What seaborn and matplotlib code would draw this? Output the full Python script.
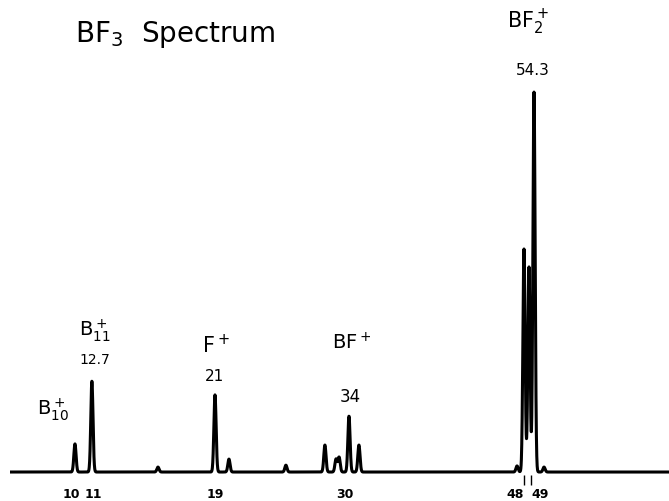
import numpy as np
import pandas as pd
import matplotlib
matplotlib.use("Agg")
import matplotlib.pyplot as plt
import seaborn as sns

# peaks (m/e, height as % of the biggest peak)
peak_mass = [10.18, 10.95, 15.26, 19.0, 20.18, 25.0, 28.3, 29.24, 29.5,
             30.4, 31.4, 47.3, 48.0, 48.71, 49.43, 50.86]
peak_height = [7.4, 23.9, 1.3, 20.3, 3.4, 1.8, 7.1, 3.4, 3.9,
               14.7, 7.1, 1.6, 58.7, 54.0, 100.0, 1.3]

tick_mass = [10, 11, 19, 30, 48, 49]
tick_text = ["10", "11", "19", "30", "48", "49"]

# the chart paper is not linear in m/e: where the ticks sit across the page
tick_pos = np.array([71, 93, 215, 345, 524, 531], dtype=float)
slope_l = (tick_pos[1] - tick_pos[0]) / (tick_mass[1] - tick_mass[0])
slope_r = 7.0


def fwd(m):
    m = np.asarray(m, dtype=float)
    p = np.interp(m, tick_mass, tick_pos)
    p = np.where(m < tick_mass[0], tick_pos[0] + (m - tick_mass[0]) * slope_l, p)
    p = np.where(m > tick_mass[-1], tick_pos[-1] + (m - tick_mass[-1]) * slope_r, p)
    return p


def inv(p):
    p = np.asarray(p, dtype=float)
    m = np.interp(p, tick_pos, tick_mass)
    m = np.where(p < tick_pos[0], tick_mass[0] + (p - tick_pos[0]) / slope_l, m)
    m = np.where(p > tick_pos[-1], tick_mass[-1] + (p - tick_pos[-1]) / slope_r, m)
    return m


# build the trace: narrow peaks on a flat baseline
grid = np.linspace(10, 669, 5000)
trace = np.zeros_like(grid)
for m, h in zip(peak_mass, peak_height):
    trace += h * np.exp(-0.5 * ((grid - fwd(m)) / 1.1) ** 2)
df = pd.DataFrame({"mass": inv(grid), "intensity": trace})

sns.set_style("white")
plt.rcParams["font.family"] = ["DejaVu Sans"]
plt.rcParams["text.color"] = "black"
plt.rcParams["xtick.color"] = "black"

fig = plt.figure(figsize=(6.69, 5.02), dpi=100)
ax = fig.add_axes([10 / 669, 21 / 502, 659 / 669, 481 / 502])
ax.set_xscale("function", functions=(fwd, inv))

sns.lineplot(data=df, x="mass", y="intensity", ax=ax, color="black",
             linewidth=2.2, sort=False, estimator=None)

ax.set_xlim(inv(10), inv(669))
ax.set_ylim(-2.1, 124.5)
for s in ax.spines.values():
    s.set_visible(False)
ax.set_yticks([])
ax.set_xlabel("")
ax.set_ylabel("")

ax.set_xticks(tick_mass)
ax.set_xticklabels(tick_text, fontsize=9, fontweight="bold")
ax.tick_params(axis="x", which="major", bottom=True, length=0, pad=5)
labs = ax.get_xticklabels()
labs[4].set_ha("right")
labs[5].set_ha("left")
ax.xaxis.remove_overlapping_locs = False
ax.set_xticks([48, 49], minor=True)
ax.tick_params(axis="x", which="minor", bottom=True, length=7, width=1,
               color="black", direction="inout")

# hand-written labels
fig.text(75 / 669, 1 - 35 / 502, "BF$_3$  Spectrum", fontsize=20,
         va="center", ha="left")
ax.text(48.55, 118.7, "BF$_2^+$", fontsize=15, ha="center", va="center")
ax.text(49.3, 106, "54.3", fontsize=11, ha="center", va="center")
ax.text(11.1, 37.6, "B$_{11}^+$", fontsize=14, ha="center", va="center")
ax.text(11.1, 29.7, "12.7", fontsize=10, ha="center", va="center")
ax.text(19.1, 33.7, "F$^+$", fontsize=15, ha="center", va="center")
ax.text(19.0, 25.3, "21", fontsize=11, ha="center", va="center")
ax.text(30.7, 34.2, "BF$^+$", fontsize=14, ha="center", va="center")
ax.text(30.5, 20.0, "34", fontsize=12, ha="center", va="center")
ax.text(9.2, 16.6, "B$_{10}^+$", fontsize=14, ha="center", va="center")

fig.savefig("out.png", dpi=100)
